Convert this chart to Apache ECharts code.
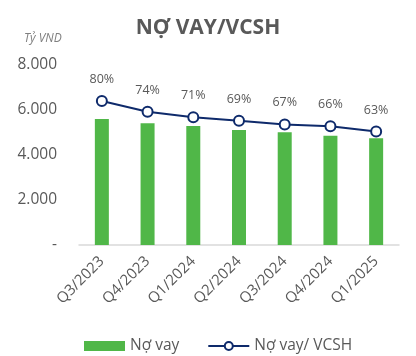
<!DOCTYPE html>
<html><head><meta charset="utf-8">
<script src="https://cdn.jsdelivr.net/npm/echarts@6/dist/echarts.min.js"></script>
<style>html,body{margin:0;padding:0;background:#fff}#c{width:416px;height:356px}</style>
</head><body><div id="c"></div>
<script>
const categories = ['Q3/2023','Q4/2023','Q1/2024','Q2/2024','Q3/2024','Q4/2024','Q1/2025'];
const debt = [5600, 5410, 5290, 5110, 5010, 4860, 4740];
const ratio = [80, 74, 71, 69, 67, 66, 63];
const yTicks = [0, 2000, 4000, 6000, 8000];

const chart = echarts.init(document.getElementById('c'));
const font = '"Open Sans", sans-serif';
chart.setOption({
  animation: false,
  title: [{
    text: 'NỢ VAY/VCSH', left: 'center', top: 13,
    textStyle: {fontFamily: font, fontSize: 21, fontWeight: 'bold', color: '#595959'}
  }, {
    text: 'Tỷ VND', left: 19, top: 28,
    textStyle: {fontFamily: font, fontSize: 12, fontStyle: 'italic', fontWeight: 'normal', color: '#7f7f7f'}
  }],
  legend: {
    left: 79, top: 333, itemWidth: 41, itemHeight: 10, itemGap: 28,
    textStyle: {fontFamily: font, fontSize: 15.5, color: '#595959'},
    data: [{name: 'Nợ vay', icon: 'rect', itemStyle: {borderWidth: 0}}, {name: 'Nợ vay/ VCSH'}]
  },
  grid: {left: 79, right: 17, top: 65, bottom: 111},
  xAxis: {
    type: 'category', data: categories,
    axisLine: {lineStyle: {color: '#d9d9d9', width: 1.5}},
    axisTick: {show: false},
    axisLabel: {rotate: 45, fontFamily: font, fontSize: 15, color: '#595959', margin: 14, interval: 0}
  },
  yAxis: [{
    type: 'value', min: yTicks[0], max: yTicks[yTicks.length-1], interval: 2000,
    splitLine: {show: false}, axisLine: {show: false}, axisTick: {show: false},
    axisLabel: {
      fontFamily: font, fontSize: 15.5, color: '#595959', margin: 22,
      formatter: v => v === 0 ? '-' : v.toLocaleString('de-DE')
    }
  }, {
    type: 'value', min: 0, max: 100, show: false, splitLine: {show: false}
  }],
  series: [{
    name: 'Nợ vay', type: 'bar', data: debt, barWidth: 14,
    itemStyle: {color: '#50b748'}
  }, {
    name: 'Nợ vay/ VCSH', type: 'line', yAxisIndex: 1, data: ratio,
    symbol: 'circle', symbolSize: 10,
    lineStyle: {color: '#0e2a6b', width: 2},
    itemStyle: {color: '#ffffff', borderColor: '#0e2a6b', borderWidth: 2},
    label: {show: true, position: 'top', distance: 9, formatter: p => p.value + '%',
      fontFamily: font, fontSize: 12.5, color: '#595959'}
  }]
});
</script></body></html>
